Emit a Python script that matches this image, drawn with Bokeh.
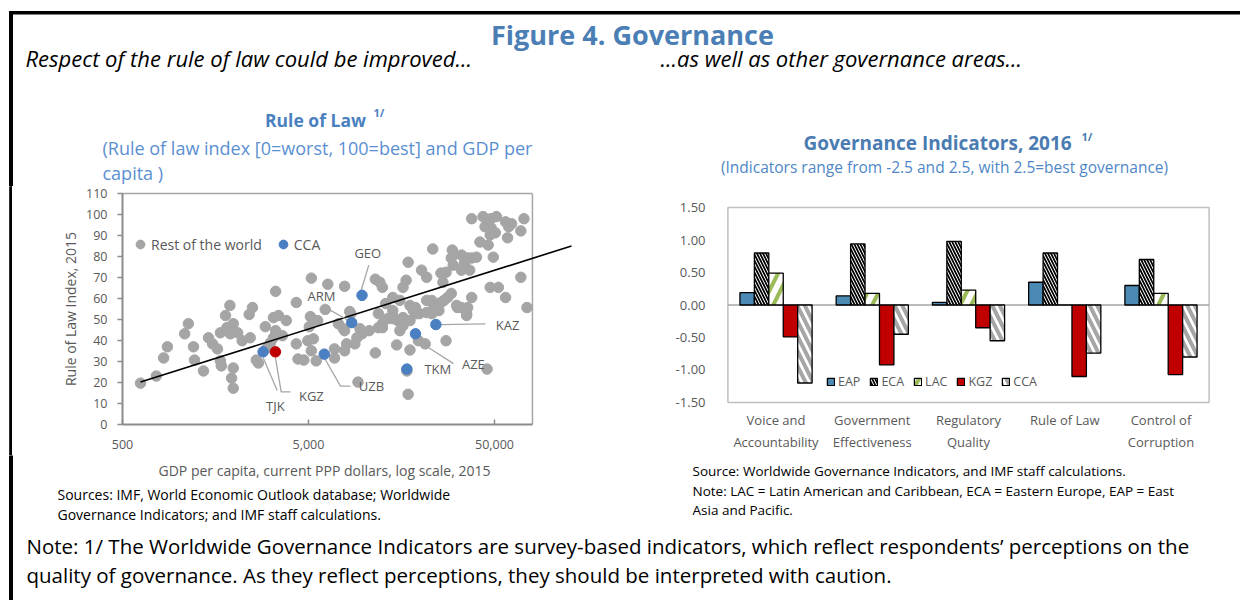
from bokeh.plotting import figure
from bokeh.layouts import column, row
from bokeh.models import (Range1d, FactorRange, FixedTicker, NumeralTickFormatter,
                          Legend, LegendItem, ColumnDataSource, Spacer)
from bokeh.transform import dodge
from bokeh.core.properties import value
from bokeh.embed import file_html
from bokeh.resources import INLINE

FONT = "Open Sans"
TXT = "#595959"
AXG = "#8c8c8c"

# ---------------- data: Rule of law scatter ----------------
row_gdp = [625, 760, 832, 872, 1080, 1130, 1204, 1220, 1363, 1450, 1525, 1620, 1680, 1700,
           1790, 1890, 1680, 1820, 1970, 1900, 2080, 1970, 1930, 1970, 2200, 2430, 2500, 2400,
           2620, 2690, 3330, 2930, 3240, 3450, 3800, 3330, 3240, 3120, 3000, 3620, 4300, 4300,
           4390, 4720, 4960, 5310, 5180, 5120, 5180, 6350, 7820, 6150, 5500, 6900, 7240, 7700,
           7820, 8430, 9230, 9460, 9100, 9700, 8880, 8020, 6900, 10600, 11870, 12490, 13320,
           14190, 15120, 15500, 16110, 17560, 19020, 18800, 19770, 21590, 23000, 24520, 26770,
           31600, 35400, 35870, 14900, 17560, 19500, 21200, 27450, 11440, 17170, 16900, 45600,
           74750, 14190, 12990, 15500, 17560, 18300, 21590, 23000, 23580, 25130, 25770, 28000,
           29300, 31300, 11880, 14190, 14190, 16110, 12490, 5050, 5600, 8330, 7820, 37700,
           43390, 47900, 51200, 57330, 61800, 72010, 44480, 47900, 50500, 47400, 59580, 69290,
           58800, 41750, 46230, 23280, 29650, 29300, 33200, 35870, 37700, 40000, 34510, 36770,
           33200, 30000, 49260, 17170, 20270, 21590, 25770, 27450, 26400, 11440, 12490, 12100,
           16750, 16110, 69290, 47400, 52480, 57330, 37700, 33200, 35400]
row_rol = [19.7, 23.1, 31.7, 37.0, 43.2, 48.0, 37.0, 30.7, 25.5, 41.3, 38.4, 36.0, 30.3, 27.9,
           51.9, 56.7, 43.7, 46.1, 48.0, 43.2, 43.7, 26.9, 22.1, 17.3, 39.9, 41.3, 55.7, 52.4,
           30.7, 29.3, 63.4, 46.6, 50.9, 51.9, 49.5, 44.7, 41.3, 38.9, 36.5, 42.3, 58.1, 38.4,
           31.2, 30.7, 39.9, 40.8, 35.1, 51.4, 69.7, 66.8, 65.8, 54.8, 30.3, 31.7, 48.0, 45.6,
           35.1, 52.8, 20.2, 45.6, 41.3, 43.2, 38.4, 38.4, 36.0, 44.7, 46.1, 48.0, 50.4,
           51.9, 49.5, 44.7, 47.1, 49.5, 52.8, 55.7, 52.8, 53.3, 52.8, 54.3, 59.1,
           55.7, 52.8, 55.7, 37.9, 35.5, 39.9, 38.4, 39.9, 34.1, 14.4, 25.5, 26.4,
           55.7, 60.5, 57.6, 59.1, 56.7, 54.3, 59.1, 59.1, 55.7, 54.3, 58.1, 60.5,
           62.4, 56.7, 52.8, 54.3, 50.4, 50.9, 46.1, 46.6, 49.5, 53.8, 44.7, 98.0,
           99.0, 98.0, 99.0, 96.5, 95.6, 98.0, 94.2, 93.7, 91.3, 90.3, 94.2, 92.2,
           88.9, 86.9, 85.5, 83.6, 83.1, 79.3, 80.7, 79.3, 79.3, 79.7, 76.9, 73.5,
           73.5, 75.9, 79.7, 77.3, 73.5, 70.1, 72.1, 72.5, 67.7, 69.2, 65.3, 67.7,
           68.7, 65.3, 70.1, 65.3, 65.3, 60.5, 60.5, 55.7, 51.9]

cca_codes = ["TJK", "KGZ", "UZB", "ARM", "GEO", "AZE", "TKM", "KAZ"]
cca_gdp = [2850, 3320, 6080, 8540, 9700, 18800, 16900, 24200]
cca_rol = [34.6, 34.6, 33.5, 48.5, 61.5, 43.2, 26.4, 47.6]

trend_gdp = [625, 129700]
trend_rol = [20.2, 85.0]

x_min, x_max = 500, 80000
y_min, y_max = 0, 110
x_ticks = [500, 5000, 50000]
y_ticks = list(range(0, 111, 10))

# label placement (annotation layout)
label_pos = {"GEO": (10420, 81.7), "ARM": (5870, 61.0), "TJK": (3320, 8.6),
             "KGZ": (5180, 13.5), "UZB": (10900, 18.3), "KAZ": (58800, 47.6),
             "AZE": (38500, 28.8), "TKM": (24800, 26.4)}
leaders = {"GEO": ([10550, 9600], [75.9, 63.9]),
           "ARM": ([6330, 8200], [55.2, 49.5]),
           "TJK": ([2853, 3395], [31.8, 16.2]),
           "KGZ": ([3320, 3566, 4000], [31.8, 15.5, 15.5]),
           "UZB": ([6080, 7430, 8410], [31.8, 18.3, 18.3]),
           "KAZ": ([25600, 44700], [47.6, 47.9]),
           "AZE": ([18600, 21300, 30100], [42.3, 37.5, 29.0])}

# ---------------- data: governance bars ----------------
gov_labels = ["Voice and\nAccountability", "Government\nEffectiveness", "Regulatory\nQuality",
              "Rule of Law", "Control of\nCorruption"]
eap = [0.19, 0.14, 0.04, 0.35, 0.30]
eca = [0.80, 0.94, 0.98, 0.80, 0.70]
lac = [0.49, 0.18, 0.23, 0.00, 0.18]
kgz = [-0.49, -0.92, -0.35, -1.10, -1.07]
cca = [-1.20, -0.45, -0.55, -0.74, -0.80]
bar_ticks = [-1.5, -1.0, -0.5, 0.0, 0.5, 1.0, 1.5]
bar_min, bar_max = -1.5, 1.5


def canvas(w, h):
    p = figure(width=w, height=h, x_range=Range1d(0, w), y_range=Range1d(h, 0),
               toolbar_location=None, output_backend="svg", min_border=0,
               x_axis_type=None, y_axis_type=None)
    p.outline_line_color = None
    return p


def txt(p, x, y, s, size, color="black", style="normal", align="left"):
    p.text(x=[x], y=[y], text=[s], text_font=value(FONT), text_font_size=size,
           text_color=color, text_font_style=style, text_align=align, text_baseline="middle")


W = 1240
# ---------------- header (screen y 0..186) ----------------
H = canvas(W, 186)
H.quad(left=[9], right=[W], top=[11], bottom=[13.5], color="black")
H.quad(left=[9], right=[12], top=[11], bottom=[186], color="black")
txt(H, 632, 34, "Figure 4. Governance", "27px", "#4a7eb4", "bold", "center")
txt(H, 25, 57, "Respect of the rule of law could be improved...", "22px", "black", "italic")
txt(H, 660, 57, "...as well as other governance areas...", "22px", "black", "italic")
txt(H, 315, 119, "Rule of Law", "17.5px", "#4a7fc0", "bold", "center")
txt(H, 373, 112, "1/", "11px", "#4a7fc0", "bold")
txt(H, 102, 147, "(Rule of law index [0=worst, 100=best]  and GDP per", "18px", "#5a90d2")
txt(H, 102, 172, "capita )", "18px", "#5a90d2")
txt(H, 942, 142, "Governance  Indicators,  2016", "19px", "#4a7cb2", "bold", "center")
txt(H, 1081, 136, "1/", "11px", "#4a7cb2", "bold")
txt(H, 944, 166, "(Indicators range from -2.5 and 2.5, with 2.5=best governance)", "15.5px",
    "#4f87c6", "normal", "center")

# ---------------- left border strip ----------------
B = figure(width=3, height=269, toolbar_location=None, output_backend="svg", min_border=0,
           x_axis_type=None, y_axis_type=None, x_range=Range1d(0, 1), y_range=Range1d(0, 1))
B.background_fill_color = "black"
B.border_fill_color = "black"
B.outline_line_color = None
B.quad(left=[0], right=[1], bottom=[0], top=[1], color="black")

# ---------------- scatter (frame screen x 12..576, y 186..455; 500 at x=122, 0 at y=424) ----
p1 = figure(width=616, height=269, x_axis_type="log", x_range=Range1d(128.14, 138000),
            y_range=Range1d(-14.762, 113.333), toolbar_location=None, output_backend="svg",
            min_border_left=0, min_border_right=52, min_border_top=0, min_border_bottom=0)
p1.outline_line_color = None
p1.grid.visible = False

p1.xaxis.fixed_location = y_min
p1.xaxis.ticker = FixedTicker(ticks=x_ticks)
p1.xaxis.formatter = NumeralTickFormatter(format="0,0")
p1.xaxis.axis_line_color = None
p1.xaxis.major_tick_in = 5
p1.xaxis.major_tick_out = 0
p1.xaxis.major_tick_line_color = AXG
p1.xaxis.major_tick_line_width = 1.5
p1.xaxis.minor_tick_line_color = None
p1.xaxis.major_label_standoff = 16
p1.yaxis.fixed_location = x_min
p1.yaxis.ticker = FixedTicker(ticks=y_ticks)
p1.yaxis.bounds = (y_min, y_max)
p1.yaxis.axis_line_color = AXG
p1.yaxis.axis_line_width = 2
p1.yaxis.major_tick_in = 0
p1.yaxis.major_tick_out = 5
p1.yaxis.major_tick_line_color = AXG
p1.yaxis.major_tick_line_width = 1.5
p1.yaxis.minor_tick_line_color = None
p1.yaxis.major_label_standoff = 10
p1.yaxis.axis_label = "Rule of Law Index, 2015"
p1.yaxis.axis_label_standoff = 3
for ax in (p1.xaxis, p1.yaxis):
    ax.major_label_text_font = FONT
    ax.major_label_text_font_size = "12.5px"
    ax.major_label_text_color = TXT
    ax.axis_label_text_font = FONT
    ax.axis_label_text_font_size = "14px"
    ax.axis_label_text_font_style = "normal"
    ax.axis_label_text_color = TXT

p1.segment(x0=[x_min, x_max], y0=[y_max, y_min], x1=[x_max, x_max], y1=[y_max, y_max],
           line_color="#a6a6a6", line_width=1.5)
p1.segment(x0=[x_min], y0=[y_min], x1=[x_max], y1=[y_min], line_color=AXG, line_width=2)

r_row = p1.scatter(row_gdp, row_rol, size=10.5, color="#a5a5a5")
p1.line(trend_gdp, trend_rol, line_color="black", line_width=1.6)
for code, (lx, ly) in leaders.items():
    p1.line(lx, ly, line_color="#a6a6a6", line_width=1.3)
cca_colors = ["#c00000" if c == "KGZ" else "#4a7fc1" for c in cca_codes]
r_cca = p1.scatter(cca_gdp, cca_rol, size=10.5, color=cca_colors)
p1.text(x=[label_pos[c][0] for c in cca_codes], y=[label_pos[c][1] for c in cca_codes],
        text=cca_codes, text_font=value(FONT), text_font_size="13px", text_color=TXT,
        text_align="center", text_baseline="middle")

leg1 = Legend(items=[LegendItem(label="Rest of the world", renderers=[r_row], index=0),
                     LegendItem(label="CCA", renderers=[r_cca], index=0)],
              orientation="horizontal", location=(117, 200), glyph_width=22, glyph_height=22,
              label_standoff=0, spacing=10, padding=0, margin=0, border_line_color=None,
              background_fill_alpha=0, label_text_font=FONT, label_text_font_size="14px",
              label_text_color=TXT)
p1.add_layout(leg1)

# ---------------- bars (frame screen y 186..455; 1.5 at 207, -1.5 at 402) ----------------
src = ColumnDataSource(dict(cat=gov_labels, EAP=eap, ECA=eca, LAC=lac, KGZ=kgz, CCA=cca))
p2 = figure(width=612, height=269,
            x_range=FactorRange(*gov_labels, range_padding=0.01, range_padding_units="percent"),
            y_range=Range1d(-2.3154, 1.8231), toolbar_location=None, output_backend="svg",
            min_border_left=97, min_border_right=29, min_border_top=0, min_border_bottom=0)
p2.grid.visible = False
p2.outline_line_color = None
p2.quad(left=[0], right=[len(gov_labels)], bottom=[bar_min], top=[bar_max],
        fill_color=None, line_color="#bfbfbf", line_width=1.5)
p2.segment(x0=[0], y0=[0], x1=[len(gov_labels)], y1=[0], line_color="#a6a6a6", line_width=1.5)

styles = [
    ("EAP", -0.30, dict(fill_color="#4b8bb3")),
    ("ECA", -0.15, dict(fill_color="white", hatch_pattern="\\", hatch_color="black",
                        hatch_scale=6, hatch_weight=1.7)),
    ("LAC", 0.0, dict(fill_color="white", hatch_pattern="/", hatch_color="#9bbb59",
                      hatch_scale=22, hatch_weight=4)),
    ("KGZ", 0.15, dict(fill_color="#c00000")),
    ("CCA", 0.30, dict(fill_color="white", hatch_pattern="\\", hatch_color="#a6a6a6",
                       hatch_scale=15, hatch_weight=4)),
]
items = []
for name, off, st in styles:
    r = p2.vbar(x=dodge("cat", off, range=p2.x_range), top=name, width=0.15, source=src,
                line_color="black", line_width=1.3, **st)
    items.append(LegendItem(label=name, renderers=[r]))

leg2 = Legend(items=items, orientation="horizontal", location=(101, 65), glyph_width=9,
              glyph_height=9, label_standoff=3, spacing=9, padding=0, margin=0,
              border_line_color=None, background_fill_alpha=0, label_text_font=FONT,
              label_text_font_size="12.5px", label_text_color=TXT, label_height=12)
p2.add_layout(leg2)

p2.xaxis.fixed_location = bar_min
p2.yaxis.ticker = FixedTicker(ticks=bar_ticks)
p2.yaxis.formatter = NumeralTickFormatter(format="0.00")
p2.yaxis.major_label_standoff = 14
p2.xaxis.major_label_standoff = 3
for ax in (p2.xaxis, p2.yaxis):
    ax.axis_line_color = None
    ax.major_tick_line_color = None
    ax.minor_tick_line_color = None
    ax.major_label_text_font = FONT
    ax.major_label_text_font_size = "13px"
    ax.major_label_text_color = TXT

# ---------------- footer (screen y 455..600) ----------------
F = canvas(W, 145)
F.quad(left=[9], right=[12], top=[0], bottom=[145], color="black")
txt(F, 324, 15, "GDP per capita, current PPP dollars, log scale, 2015", "14px", TXT, "normal", "center")
txt(F, 57, 39, "Sources: IMF, World Economic Outlook database; Worldwide", "14px")
txt(F, 57, 59, "Governance  Indicators;  and IMF staff calculations.", "14px")
txt(F, 692, 15, "Source: Worldwide  Governance Indicators, and IMF staff calculations.", "13.5px")
txt(F, 692, 35, "Note: LAC = Latin American and Caribbean, ECA = Eastern Europe, EAP = East", "13.5px")
txt(F, 692, 54, "Asia and Pacific.", "13.5px")
txt(F, 26, 90, "Note: 1/ The Worldwide Governance Indicators are survey-based indicators, which "
    "reflect respondents\u2019 perceptions on the", "20.5px")
txt(F, 26, 119, "quality of governance. As they reflect perceptions, they should be interpreted "
    "with caution.", "20.5px")

page = column(H, row(Spacer(width=9, height=269), B, p1, p2), F)
open("out.html", "w").write(file_html(page, INLINE))
